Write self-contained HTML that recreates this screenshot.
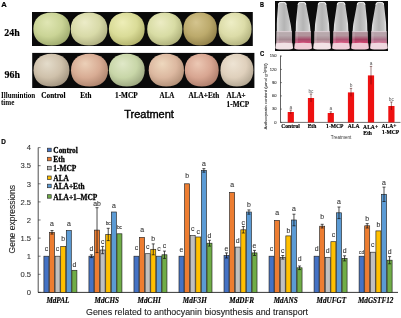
<!DOCTYPE html><html><head><meta charset="utf-8"><style>
html,body{margin:0;padding:0;background:#fff;}
body{width:401px;height:318px;overflow:hidden;}
svg{display:block;will-change:transform;}
text{font-family:"Liberation Sans",sans-serif;}
.sb{font-family:"Liberation Serif",serif;font-weight:bold;stroke:#000;stroke-width:0.16px;}
.sbi{font-family:"Liberation Serif",serif;font-weight:bold;font-style:italic;stroke:#000;stroke-width:0.16px;}
</style></head><body>
<svg width="401" height="318" viewBox="0 0 401 318">
<defs>
<radialGradient id="ap0" cx="0.42" cy="0.38" r="0.7" fx="0.38" fy="0.3"><stop offset="0" stop-color="#e0e6b4"/><stop offset="0.55" stop-color="#cad496"/><stop offset="1" stop-color="#98a468"/></radialGradient>
<radialGradient id="ap1" cx="0.42" cy="0.38" r="0.7" fx="0.38" fy="0.3"><stop offset="0" stop-color="#ececc8"/><stop offset="0.55" stop-color="#d8daa8"/><stop offset="1" stop-color="#a8a87a"/></radialGradient>
<radialGradient id="ap2" cx="0.42" cy="0.38" r="0.7" fx="0.38" fy="0.3"><stop offset="0" stop-color="#eeeeb8"/><stop offset="0.55" stop-color="#dadc98"/><stop offset="1" stop-color="#acac66"/></radialGradient>
<radialGradient id="ap3" cx="0.42" cy="0.38" r="0.7" fx="0.38" fy="0.3"><stop offset="0" stop-color="#ececc4"/><stop offset="0.55" stop-color="#d8dca4"/><stop offset="1" stop-color="#a8aa74"/></radialGradient>
<radialGradient id="ap4" cx="0.42" cy="0.38" r="0.7" fx="0.38" fy="0.3"><stop offset="0" stop-color="#d4c48e"/><stop offset="0.55" stop-color="#bcaa6c"/><stop offset="1" stop-color="#8a7a44"/></radialGradient>
<radialGradient id="ap5" cx="0.42" cy="0.38" r="0.7" fx="0.38" fy="0.3"><stop offset="0" stop-color="#eeeec6"/><stop offset="0.55" stop-color="#dcdca8"/><stop offset="1" stop-color="#acac78"/></radialGradient>
<radialGradient id="ap6" cx="0.42" cy="0.38" r="0.7" fx="0.38" fy="0.3"><stop offset="0" stop-color="#e4dccb"/><stop offset="0.55" stop-color="#cfc1ab"/><stop offset="1" stop-color="#9c8e7a"/></radialGradient>
<radialGradient id="ap7" cx="0.42" cy="0.38" r="0.7" fx="0.38" fy="0.3"><stop offset="0" stop-color="#ecd0b8"/><stop offset="0.55" stop-color="#d8ac94"/><stop offset="1" stop-color="#a87e68"/></radialGradient>
<radialGradient id="ap8" cx="0.42" cy="0.38" r="0.7" fx="0.38" fy="0.3"><stop offset="0" stop-color="#e0e8c8"/><stop offset="0.55" stop-color="#c8d6a8"/><stop offset="1" stop-color="#96a07a"/></radialGradient>
<radialGradient id="ap9" cx="0.42" cy="0.38" r="0.7" fx="0.38" fy="0.3"><stop offset="0" stop-color="#eed8be"/><stop offset="0.55" stop-color="#dcb8a0"/><stop offset="1" stop-color="#ac8a72"/></radialGradient>
<radialGradient id="ap10" cx="0.42" cy="0.38" r="0.7" fx="0.38" fy="0.3"><stop offset="0" stop-color="#ecc8b4"/><stop offset="0.55" stop-color="#d8a692"/><stop offset="1" stop-color="#a87866"/></radialGradient>
<radialGradient id="ap11" cx="0.42" cy="0.38" r="0.7" fx="0.38" fy="0.3"><stop offset="0" stop-color="#eee4d4"/><stop offset="0.55" stop-color="#dfd0bc"/><stop offset="1" stop-color="#aca08c"/></radialGradient>
<linearGradient id="tube" x1="0" x2="1" y1="0" y2="0"><stop offset="0" stop-color="#686868"/><stop offset="0.08" stop-color="#e0e0e0"/><stop offset="0.2" stop-color="#c8c8c8"/><stop offset="0.5" stop-color="#b4b4b4"/><stop offset="0.8" stop-color="#c6c6c6"/><stop offset="0.92" stop-color="#dcdcdc"/><stop offset="1" stop-color="#686868"/></linearGradient>
</defs>
<text x="1.2" y="7.1" font-size="7.6" font-weight="bold" stroke="#000" stroke-width="0.2">A</text>
<rect x="32" y="12" width="220.8" height="34" fill="#0a0a0a"/>
<rect x="32.2" y="52.9" width="222.2" height="35.1" fill="#0a0a0a"/>
<path d="M51.70,12.40 C63.11,12.40 70.10,18.71 70.10,29.00 C70.10,39.29 63.11,45.60 51.70,45.60 C40.29,45.60 33.30,39.29 33.30,29.00 C33.30,18.71 40.29,12.40 51.70,12.40 Z" fill="url(#ap0)"/>
<path d="M89.05,12.40 C100.43,12.40 107.40,18.71 107.40,29.00 C107.40,39.29 100.43,45.60 89.05,45.60 C77.67,45.60 70.70,39.29 70.70,29.00 C70.70,18.71 77.67,12.40 89.05,12.40 Z" fill="url(#ap1)"/>
<path d="M126.80,12.40 C137.90,12.40 144.70,18.71 144.70,29.00 C144.70,39.29 137.90,45.60 126.80,45.60 C115.70,45.60 108.90,39.29 108.90,29.00 C108.90,18.71 115.70,12.40 126.80,12.40 Z" fill="url(#ap2)"/>
<path d="M164.80,12.40 C175.71,12.40 182.40,18.71 182.40,29.00 C182.40,39.29 175.71,45.60 164.80,45.60 C153.89,45.60 147.20,39.29 147.20,29.00 C147.20,18.71 153.89,12.40 164.80,12.40 Z" fill="url(#ap3)"/>
<path d="M200.15,12.40 C210.53,12.40 216.90,18.71 216.90,29.00 C216.90,39.29 210.53,45.60 200.15,45.60 C189.77,45.60 183.40,39.29 183.40,29.00 C183.40,18.71 189.77,12.40 200.15,12.40 Z" fill="url(#ap4)"/>
<path d="M235.05,12.40 C245.31,12.40 251.60,18.71 251.60,29.00 C251.60,39.29 245.31,45.60 235.05,45.60 C224.79,45.60 218.50,39.29 218.50,29.00 C218.50,18.71 224.79,12.40 235.05,12.40 Z" fill="url(#ap5)"/>
<path d="M51.45,53.80 C62.58,53.80 69.40,60.03 69.40,70.20 C69.40,80.37 62.58,86.60 51.45,86.60 C40.32,86.60 33.50,80.37 33.50,70.20 C33.50,60.03 40.32,53.80 51.45,53.80 Z" fill="url(#ap6)"/>
<path d="M89.50,53.80 C100.97,53.80 108.00,60.03 108.00,70.20 C108.00,80.37 100.97,86.60 89.50,86.60 C78.03,86.60 71.00,80.37 71.00,70.20 C71.00,60.03 78.03,53.80 89.50,53.80 Z" fill="url(#ap7)"/>
<path d="M126.80,53.80 C137.90,53.80 144.70,60.03 144.70,70.20 C144.70,80.37 137.90,86.60 126.80,86.60 C115.70,86.60 108.90,80.37 108.90,70.20 C108.90,60.03 115.70,53.80 126.80,53.80 Z" fill="url(#ap8)"/>
<path d="M166.35,53.80 C177.29,53.80 184.00,60.03 184.00,70.20 C184.00,80.37 177.29,86.60 166.35,86.60 C155.41,86.60 148.70,80.37 148.70,70.20 C148.70,60.03 155.41,53.80 166.35,53.80 Z" fill="url(#ap9)"/>
<path d="M201.75,53.80 C212.26,53.80 218.70,60.03 218.70,70.20 C218.70,80.37 212.26,86.60 201.75,86.60 C191.24,86.60 184.80,80.37 184.80,70.20 C184.80,60.03 191.24,53.80 201.75,53.80 Z" fill="url(#ap10)"/>
<path d="M236.90,53.80 C247.13,53.80 253.40,60.03 253.40,70.20 C253.40,80.37 247.13,86.60 236.90,86.60 C226.67,86.60 220.40,80.37 220.40,70.20 C220.40,60.03 226.67,53.80 236.90,53.80 Z" fill="url(#ap11)"/>
<text class="sb" x="4.3" y="35.5" font-size="9.3" textLength="15.4" lengthAdjust="spacingAndGlyphs">24h</text>
<text class="sb" x="4.6" y="77.8" font-size="9.3" textLength="15.4" lengthAdjust="spacingAndGlyphs">96h</text>
<text x="1" y="97.7" font-size="7.8" textLength="34.3" lengthAdjust="spacingAndGlyphs" style="font-family:Liberation Serif,serif;font-weight:bold">Illumintion</text>
<text x="1" y="104.9" font-size="7.8" textLength="13.4" lengthAdjust="spacingAndGlyphs" style="font-family:Liberation Serif,serif;font-weight:bold">time</text>
<text class="sb" x="41.3" y="97.7" font-size="7.4" textLength="24.1" lengthAdjust="spacingAndGlyphs" stroke="#000" stroke-width="0.18">Control</text>
<text class="sb" x="80.3" y="97.7" font-size="7.4" textLength="11.1" lengthAdjust="spacingAndGlyphs" stroke="#000" stroke-width="0.18">Eth</text>
<text class="sb" x="115.0" y="97.7" font-size="7.4" textLength="22.6" lengthAdjust="spacingAndGlyphs" stroke="#000" stroke-width="0.18">1-MCP</text>
<text class="sb" x="159.6" y="97.7" font-size="7.4" textLength="14.8" lengthAdjust="spacingAndGlyphs" stroke="#000" stroke-width="0.18">ALA</text>
<text class="sb" x="188.5" y="97.7" font-size="7.4" textLength="30.7" lengthAdjust="spacingAndGlyphs" stroke="#000" stroke-width="0.18">ALA+Eth</text>
<text class="sb" x="226.6" y="97.7" font-size="7.4" textLength="19.0" lengthAdjust="spacingAndGlyphs" stroke="#000" stroke-width="0.18">ALA+</text>
<text class="sb" x="226.6" y="106.6" font-size="7.4" textLength="22.6" lengthAdjust="spacingAndGlyphs" stroke="#000" stroke-width="0.18">1-MCP</text>
<text x="124.2" y="117.6" font-size="11" stroke="#000" stroke-width="0.4">Treatment</text>
<text x="259.9" y="6.8" font-size="6.6" font-weight="bold" textLength="4.0" lengthAdjust="spacingAndGlyphs" stroke="#000" stroke-width="0.2">B</text>
<rect x="275" y="1" width="113" height="50" fill="#0c0c0c"/>
<path d="M278.1,4.6 Q278.1,2.0 280.7,2.0 L283.9,2.0 Q286.5,2.0 286.5,4.6 L290.6,24 L291.8,31 L292.1,44.0 L276.3,44.0 L276.6,31 L276.6,24 Z" fill="url(#tube)"/>
<path d="M278.5,4.8 Q278.5,2.4 280.9,2.4 L283.7,2.4 Q286.1,2.4 286.1,4.8" fill="none" stroke="#f0f0f0" stroke-width="1"/>
<linearGradient id="lq0" x1="0" x2="0" y1="0" y2="1"><stop offset="0" stop-color="#b8aaae"/><stop offset="0.3" stop-color="#b8aaae"/><stop offset="0.65" stop-color="#a68c94"/><stop offset="1" stop-color="#d0a4b2"/></linearGradient>
<path d="M276.6,32 L291.8,32 L292.1,43.5 L276.3,43.5 Z" fill="url(#lq0)"/>
<path d="M277.3,32.5 L278.8,32.5 L278.8,43 L277.1,43 Z" fill="#ffffff" opacity="0.15"/>
<line x1="276.6" y1="31.6" x2="291.8" y2="31.6" stroke="#dccfd4" stroke-width="1"/>
<path d="M275.9,43.2 Q284.2,42.4 292.5,43.2 L293.1,48.3 Q292.5,49.8 284.2,49.6 Q275.9,49.8 275.3,48.3 Z" fill="#f2e2e6"/>
<path d="M297.8,4.6 Q297.8,2.0 300.3,2.0 L303.6,2.0 Q306.1,2.0 306.1,4.6 L309.8,24 L310.8,31 L311.0,44.0 L295.2,44.0 L295.5,31 L295.8,24 Z" fill="url(#tube)"/>
<path d="M298.1,4.8 Q298.1,2.4 300.6,2.4 L303.3,2.4 Q305.8,2.4 305.8,4.8" fill="none" stroke="#f0f0f0" stroke-width="1"/>
<linearGradient id="lq1" x1="0" x2="0" y1="0" y2="1"><stop offset="0" stop-color="#b2949c"/><stop offset="0.3" stop-color="#b2949c"/><stop offset="0.65" stop-color="#a44c6a"/><stop offset="1" stop-color="#d84c7a"/></linearGradient>
<path d="M295.5,32 L310.8,32 L311.0,43.5 L295.2,43.5 Z" fill="url(#lq1)"/>
<path d="M296.2,32.5 L297.8,32.5 L297.8,43 L296.0,43 Z" fill="#ffffff" opacity="0.15"/>
<line x1="295.5" y1="31.6" x2="310.8" y2="31.6" stroke="#dccfd4" stroke-width="1"/>
<path d="M294.8,43.2 Q303.1,42.4 311.4,43.2 L312.0,48.3 Q311.4,49.8 303.1,49.6 Q294.8,49.8 294.2,48.3 Z" fill="#f0ccd6"/>
<path d="M317.9,4.6 Q317.9,2.0 320.5,2.0 L323.7,2.0 Q326.3,2.0 326.3,4.6 L329.1,24 L329.7,31 L330.0,44.0 L314.2,44.0 L314.5,31 L315.1,24 Z" fill="url(#tube)"/>
<path d="M318.3,4.8 Q318.3,2.4 320.7,2.4 L323.5,2.4 Q325.9,2.4 325.9,4.8" fill="none" stroke="#f0f0f0" stroke-width="1"/>
<linearGradient id="lq2" x1="0" x2="0" y1="0" y2="1"><stop offset="0" stop-color="#b8a8ac"/><stop offset="0.3" stop-color="#b8a8ac"/><stop offset="0.65" stop-color="#a88a92"/><stop offset="1" stop-color="#d4a0b0"/></linearGradient>
<path d="M314.4,32 L329.7,32 L330.0,43.5 L314.2,43.5 Z" fill="url(#lq2)"/>
<path d="M315.2,32.5 L316.7,32.5 L316.7,43 L315.0,43 Z" fill="#ffffff" opacity="0.15"/>
<line x1="314.5" y1="31.6" x2="329.7" y2="31.6" stroke="#dccfd4" stroke-width="1"/>
<path d="M313.8,43.2 Q322.1,42.4 330.4,43.2 L331.0,48.3 Q330.4,49.8 322.1,49.6 Q313.8,49.8 313.2,48.3 Z" fill="#f2e2e6"/>
<path d="M336.9,4.6 Q336.9,2.0 339.5,2.0 L342.8,2.0 Q345.3,2.0 345.3,4.6 L348.1,24 L348.6,31 L348.9,44.0 L333.1,44.0 L333.4,31 L334.1,24 Z" fill="url(#tube)"/>
<path d="M337.3,4.8 Q337.3,2.4 339.8,2.4 L342.5,2.4 Q344.9,2.4 344.9,4.8" fill="none" stroke="#f0f0f0" stroke-width="1"/>
<linearGradient id="lq3" x1="0" x2="0" y1="0" y2="1"><stop offset="0" stop-color="#b4969e"/><stop offset="0.3" stop-color="#b4969e"/><stop offset="0.65" stop-color="#ac5674"/><stop offset="1" stop-color="#e05c86"/></linearGradient>
<path d="M333.4,32 L348.7,32 L348.9,43.5 L333.1,43.5 Z" fill="url(#lq3)"/>
<path d="M334.1,32.5 L335.6,32.5 L335.6,43 L333.9,43 Z" fill="#ffffff" opacity="0.15"/>
<line x1="333.4" y1="31.6" x2="348.6" y2="31.6" stroke="#dccfd4" stroke-width="1"/>
<path d="M332.7,43.2 Q341.0,42.4 349.3,43.2 L349.9,48.3 Q349.3,49.8 341.0,49.6 Q332.7,49.8 332.1,48.3 Z" fill="#f0d0da"/>
<path d="M356.9,4.6 Q356.9,2.0 359.5,2.0 L362.7,2.0 Q365.3,2.0 365.3,4.6 L367.3,24 L367.6,31 L367.9,44.0 L352.1,44.0 L352.4,31 L353.3,24 Z" fill="url(#tube)"/>
<path d="M357.3,4.8 Q357.3,2.4 359.7,2.4 L362.5,2.4 Q364.9,2.4 364.9,4.8" fill="none" stroke="#f0f0f0" stroke-width="1"/>
<linearGradient id="lq4" x1="0" x2="0" y1="0" y2="1"><stop offset="0" stop-color="#b08e98"/><stop offset="0.3" stop-color="#b08e98"/><stop offset="0.65" stop-color="#a44262"/><stop offset="1" stop-color="#d84472"/></linearGradient>
<path d="M352.4,32 L367.6,32 L367.9,43.5 L352.1,43.5 Z" fill="url(#lq4)"/>
<path d="M353.1,32.5 L354.6,32.5 L354.6,43 L352.9,43 Z" fill="#ffffff" opacity="0.15"/>
<line x1="352.4" y1="31.6" x2="367.6" y2="31.6" stroke="#dccfd4" stroke-width="1"/>
<path d="M351.7,43.2 Q360.0,42.4 368.3,43.2 L368.9,48.3 Q368.3,49.8 360.0,49.6 Q351.7,49.8 351.1,48.3 Z" fill="#f0c8d4"/>
<path d="M375.6,4.6 Q375.6,2.0 378.2,2.0 L381.4,2.0 Q384.0,2.0 384.0,4.6 L386.2,24 L386.6,31 L386.8,44.0 L371.1,44.0 L371.3,31 L372.2,24 Z" fill="url(#tube)"/>
<path d="M376.0,4.8 Q376.0,2.4 378.4,2.4 L381.2,2.4 Q383.6,2.4 383.6,4.8" fill="none" stroke="#f0f0f0" stroke-width="1"/>
<linearGradient id="lq5" x1="0" x2="0" y1="0" y2="1"><stop offset="0" stop-color="#b8a2aa"/><stop offset="0.3" stop-color="#b8a2aa"/><stop offset="0.65" stop-color="#ac728a"/><stop offset="1" stop-color="#d8789a"/></linearGradient>
<path d="M371.3,32 L386.6,32 L386.8,43.5 L371.1,43.5 Z" fill="url(#lq5)"/>
<path d="M372.1,32.5 L373.6,32.5 L373.6,43 L371.8,43 Z" fill="#ffffff" opacity="0.15"/>
<line x1="371.3" y1="31.6" x2="386.6" y2="31.6" stroke="#dccfd4" stroke-width="1"/>
<path d="M370.6,43.2 Q378.9,42.4 387.2,43.2 L387.8,48.3 Q387.2,49.8 378.9,49.6 Q370.6,49.8 370.1,48.3 Z" fill="#f0d8e0"/>
<text x="259.9" y="55.7" font-size="6.6" font-weight="bold" textLength="4.2" lengthAdjust="spacingAndGlyphs" stroke="#000" stroke-width="0.2">C</text>
<line x1="280.5" y1="55.5" x2="280.5" y2="122.4" stroke="#222" stroke-width="0.7"/>
<line x1="280.2" y1="122.4" x2="400.5" y2="122.4" stroke="#333" stroke-width="0.7"/>
<line x1="280.5" y1="122.4" x2="282" y2="122.4" stroke="#222" stroke-width="0.5"/>
<text x="276.6" y="123.6" font-size="4.1" text-anchor="end" fill="#333" stroke="#333" stroke-width="0.08">0</text>
<line x1="280.5" y1="109.1" x2="282" y2="109.1" stroke="#222" stroke-width="0.5"/>
<text x="276.6" y="110.3" font-size="4.1" text-anchor="end" fill="#333" stroke="#333" stroke-width="0.08">30</text>
<line x1="280.5" y1="95.9" x2="282" y2="95.9" stroke="#222" stroke-width="0.5"/>
<text x="276.6" y="97.1" font-size="4.1" text-anchor="end" fill="#333" stroke="#333" stroke-width="0.08">60</text>
<line x1="280.5" y1="82.6" x2="282" y2="82.6" stroke="#222" stroke-width="0.5"/>
<text x="276.6" y="83.8" font-size="4.1" text-anchor="end" fill="#333" stroke="#333" stroke-width="0.08">90</text>
<line x1="280.5" y1="69.4" x2="282" y2="69.4" stroke="#222" stroke-width="0.5"/>
<text x="276.6" y="70.6" font-size="4.1" text-anchor="end" fill="#333" stroke="#333" stroke-width="0.08">120</text>
<line x1="280.5" y1="56.1" x2="282" y2="56.1" stroke="#222" stroke-width="0.5"/>
<text x="276.6" y="57.3" font-size="4.1" text-anchor="end" fill="#333" stroke="#333" stroke-width="0.08">150</text>
<text transform="translate(266.9,96.4) rotate(-90)" font-size="4.35" text-anchor="middle" fill="#333" stroke="#333" stroke-width="0.08">Anthocyanin content (μmol g<tspan dy="-1.3" font-size="3">-1</tspan><tspan dy="1.3">FW)</tspan></text>
<rect x="287.7" y="112.0" width="6.2" height="10.4" fill="#ee1111"/>
<line x1="290.8" y1="110.0" x2="290.8" y2="114.0" stroke="#400" stroke-width="0.5"/>
<line x1="289.6" y1="110.0" x2="292.0" y2="110.0" stroke="#400" stroke-width="0.5"/>
<text x="290.8" y="108.5" font-size="4.8" text-anchor="middle" fill="#555">a</text>
<rect x="307.9" y="98.0" width="6.2" height="24.4" fill="#ee1111"/>
<line x1="311.0" y1="94.0" x2="311.0" y2="102.0" stroke="#400" stroke-width="0.5"/>
<line x1="309.8" y1="94.0" x2="312.2" y2="94.0" stroke="#400" stroke-width="0.5"/>
<text x="311.0" y="92.5" font-size="4.8" text-anchor="middle" fill="#555">bc</text>
<rect x="327.7" y="113.0" width="6.2" height="9.4" fill="#ee1111"/>
<line x1="330.8" y1="111.8" x2="330.8" y2="114.2" stroke="#400" stroke-width="0.5"/>
<line x1="329.6" y1="111.8" x2="332.0" y2="111.8" stroke="#400" stroke-width="0.5"/>
<text x="330.8" y="110.3" font-size="4.8" text-anchor="middle" fill="#555">a</text>
<rect x="347.9" y="92.4" width="6.2" height="30.0" fill="#ee1111"/>
<line x1="351.0" y1="88.4" x2="351.0" y2="96.4" stroke="#400" stroke-width="0.5"/>
<line x1="349.8" y1="88.4" x2="352.2" y2="88.4" stroke="#400" stroke-width="0.5"/>
<text x="351.0" y="86.9" font-size="4.8" text-anchor="middle" fill="#555">b</text>
<rect x="367.9" y="75.4" width="6.2" height="47.0" fill="#ee1111"/>
<line x1="371.0" y1="66.4" x2="371.0" y2="84.4" stroke="#400" stroke-width="0.5"/>
<line x1="369.8" y1="66.4" x2="372.2" y2="66.4" stroke="#400" stroke-width="0.5"/>
<text x="371.0" y="64.9" font-size="4.8" text-anchor="middle" fill="#555">a</text>
<rect x="388.3" y="106.0" width="6.2" height="16.4" fill="#ee1111"/>
<line x1="391.4" y1="102.0" x2="391.4" y2="110.0" stroke="#400" stroke-width="0.5"/>
<line x1="390.2" y1="102.0" x2="392.59999999999997" y2="102.0" stroke="#400" stroke-width="0.5"/>
<text x="391.4" y="100.5" font-size="4.8" text-anchor="middle" fill="#555">bc</text>
<text class="sb" x="290.5" y="127.5" font-size="5.6" text-anchor="middle">Control</text>
<text class="sb" x="312" y="127.6" font-size="5.6" text-anchor="middle">Eth</text>
<text class="sb" x="334.8" y="127.7" font-size="5.6" text-anchor="middle">1-MCP</text>
<text class="sb" x="353.7" y="127.8" font-size="5.6" text-anchor="middle">ALA</text>
<text class="sb" x="370.6" y="128.9" font-size="5.6" text-anchor="middle">ALA+</text>
<text class="sb" x="389.0" y="127.9" font-size="5.6" text-anchor="middle">ALA+</text>
<text class="sb" x="367.6" y="135.1" font-size="5.6" text-anchor="middle">Eth</text>
<text class="sb" x="390.6" y="134.4" font-size="5.6" text-anchor="middle">1-MCP</text>
<text x="341" y="139.3" font-size="4.5" text-anchor="middle" fill="#333">Treatment</text>
<text x="1.3" y="144.2" font-size="7.1" font-weight="bold" textLength="4.6" lengthAdjust="spacingAndGlyphs" stroke="#000" stroke-width="0.2">D</text>
<line x1="38.2" y1="147.6" x2="38.2" y2="292.4" stroke="#222" stroke-width="0.8"/>
<line x1="38" y1="292.4" x2="398" y2="292.4" stroke="#222" stroke-width="0.9"/>
<line x1="38.2" y1="292.4" x2="40.6" y2="292.4" stroke="#222" stroke-width="0.6"/>
<text x="31" y="295.1" font-size="7.6" text-anchor="end" fill="#333" stroke="#333" stroke-width="0.1">0</text>
<line x1="38.2" y1="274.3" x2="40.6" y2="274.3" stroke="#222" stroke-width="0.6"/>
<text x="31" y="277.0" font-size="7.6" text-anchor="end" fill="#333" stroke="#333" stroke-width="0.1">0.5</text>
<line x1="38.2" y1="256.2" x2="40.6" y2="256.2" stroke="#222" stroke-width="0.6"/>
<text x="31" y="258.9" font-size="7.6" text-anchor="end" fill="#333" stroke="#333" stroke-width="0.1">1</text>
<line x1="38.2" y1="238.1" x2="40.6" y2="238.1" stroke="#222" stroke-width="0.6"/>
<text x="31" y="240.8" font-size="7.6" text-anchor="end" fill="#333" stroke="#333" stroke-width="0.1">1.5</text>
<line x1="38.2" y1="220.0" x2="40.6" y2="220.0" stroke="#222" stroke-width="0.6"/>
<text x="31" y="222.7" font-size="7.6" text-anchor="end" fill="#333" stroke="#333" stroke-width="0.1">2</text>
<line x1="38.2" y1="201.9" x2="40.6" y2="201.9" stroke="#222" stroke-width="0.6"/>
<text x="31" y="204.6" font-size="7.6" text-anchor="end" fill="#333" stroke="#333" stroke-width="0.1">2.5</text>
<line x1="38.2" y1="183.8" x2="40.6" y2="183.8" stroke="#222" stroke-width="0.6"/>
<text x="31" y="186.5" font-size="7.6" text-anchor="end" fill="#333" stroke="#333" stroke-width="0.1">3</text>
<line x1="38.2" y1="165.7" x2="40.6" y2="165.7" stroke="#222" stroke-width="0.6"/>
<text x="31" y="168.4" font-size="7.6" text-anchor="end" fill="#333" stroke="#333" stroke-width="0.1">3.5</text>
<line x1="38.2" y1="147.6" x2="40.6" y2="147.6" stroke="#222" stroke-width="0.6"/>
<text x="31" y="150.3" font-size="7.6" text-anchor="end" fill="#333" stroke="#333" stroke-width="0.1">4</text>
<text transform="translate(14.9,219.2) rotate(-90)" font-size="8.5" text-anchor="middle" fill="#222" stroke="#222" stroke-width="0.1">Gene expressions</text>
<rect x="43.90" y="256.2" width="5.00" height="36.2" fill="#4472c4" stroke="#222" stroke-width="0.65"/>
<text x="46.40" y="251.2" font-size="6.9" text-anchor="middle" fill="#333" stroke="#333" stroke-width="0.1">c</text>
<rect x="49.50" y="232.3" width="5.00" height="60.1" fill="#ed7d31" stroke="#222" stroke-width="0.65"/>
<line x1="52.00" y1="230.5" x2="52.00" y2="234.1" stroke="#111" stroke-width="0.75"/>
<line x1="50.50" y1="230.5" x2="53.50" y2="230.5" stroke="#111" stroke-width="0.7"/>
<line x1="50.50" y1="234.1" x2="53.50" y2="234.1" stroke="#111" stroke-width="0.7"/>
<text x="52.00" y="226.1" font-size="6.9" text-anchor="middle" fill="#333" stroke="#333" stroke-width="0.1">a</text>
<rect x="55.10" y="256.2" width="5.00" height="36.2" fill="#c0c0c0" stroke="#222" stroke-width="0.65"/>
<text x="57.60" y="251.2" font-size="6.9" text-anchor="middle" fill="#333" stroke="#333" stroke-width="0.1">c</text>
<rect x="60.70" y="246.4" width="5.00" height="46.0" fill="#ffc000" stroke="#222" stroke-width="0.65"/>
<text x="63.20" y="241.2" font-size="6.9" text-anchor="middle" fill="#333" stroke="#333" stroke-width="0.1">b</text>
<rect x="66.30" y="230.5" width="5.00" height="61.9" fill="#5b9bd5" stroke="#222" stroke-width="0.65"/>
<text x="68.80" y="225.5" font-size="6.9" text-anchor="middle" fill="#333" stroke="#333" stroke-width="0.1">a</text>
<rect x="71.90" y="270.3" width="5.00" height="22.1" fill="#70ad47" stroke="#222" stroke-width="0.65"/>
<text x="74.40" y="267.2" font-size="6.9" text-anchor="middle" fill="#333" stroke="#333" stroke-width="0.1">d</text>
<text class="sbi" x="57.9" y="302.6" font-size="7.2" text-anchor="middle">MdPAL</text>
<rect x="88.93" y="256.2" width="5.00" height="36.2" fill="#4472c4" stroke="#222" stroke-width="0.65"/>
<line x1="91.43" y1="254.8" x2="91.43" y2="257.6" stroke="#111" stroke-width="0.75"/>
<line x1="89.93" y1="254.8" x2="92.93" y2="254.8" stroke="#111" stroke-width="0.7"/>
<line x1="89.93" y1="257.6" x2="92.93" y2="257.6" stroke="#111" stroke-width="0.7"/>
<text x="91.43" y="250.6" font-size="6.9" text-anchor="middle" fill="#333" stroke="#333" stroke-width="0.1">d</text>
<rect x="94.53" y="230.1" width="5.00" height="62.3" fill="#ed7d31" stroke="#222" stroke-width="0.65"/>
<line x1="97.03" y1="207.7" x2="97.03" y2="252.6" stroke="#111" stroke-width="0.75"/>
<line x1="95.53" y1="207.7" x2="98.53" y2="207.7" stroke="#111" stroke-width="0.7"/>
<line x1="95.53" y1="252.6" x2="98.53" y2="252.6" stroke="#111" stroke-width="0.7"/>
<text x="97.03" y="206.4" font-size="6.9" text-anchor="middle" fill="#333" stroke="#333" stroke-width="0.1">ab</text>
<rect x="100.13" y="250.0" width="5.00" height="42.4" fill="#c0c0c0" stroke="#222" stroke-width="0.65"/>
<line x1="102.63" y1="246.4" x2="102.63" y2="253.7" stroke="#111" stroke-width="0.75"/>
<line x1="101.13" y1="246.4" x2="104.13" y2="246.4" stroke="#111" stroke-width="0.7"/>
<line x1="101.13" y1="253.7" x2="104.13" y2="253.7" stroke="#111" stroke-width="0.7"/>
<text x="102.63" y="244.2" font-size="6.9" text-anchor="middle" fill="#333" stroke="#333" stroke-width="0.1">c</text>
<rect x="105.73" y="234.5" width="5.00" height="57.9" fill="#ffc000" stroke="#222" stroke-width="0.65"/>
<line x1="108.23" y1="228.3" x2="108.23" y2="240.6" stroke="#111" stroke-width="0.75"/>
<line x1="106.73" y1="228.3" x2="109.73" y2="228.3" stroke="#111" stroke-width="0.7"/>
<line x1="106.73" y1="240.6" x2="109.73" y2="240.6" stroke="#111" stroke-width="0.7"/>
<text x="108.23" y="225.2" font-size="4.8" text-anchor="middle" fill="#333" stroke="#333" stroke-width="0.1">bc</text>
<rect x="111.33" y="212.0" width="5.00" height="80.4" fill="#5b9bd5" stroke="#222" stroke-width="0.65"/>
<text x="113.83" y="208.3" font-size="6.9" text-anchor="middle" fill="#333" stroke="#333" stroke-width="0.1">a</text>
<rect x="116.93" y="233.8" width="5.00" height="58.6" fill="#70ad47" stroke="#222" stroke-width="0.65"/>
<text x="119.43" y="228.8" font-size="4.8" text-anchor="middle" fill="#333" stroke="#333" stroke-width="0.1">bc</text>
<text class="sbi" x="106.8" y="302.6" font-size="7.2" text-anchor="middle">MdCHS</text>
<rect x="133.96" y="256.2" width="5.00" height="36.2" fill="#4472c4" stroke="#222" stroke-width="0.65"/>
<text x="136.46" y="250.4" font-size="6.9" text-anchor="middle" fill="#333" stroke="#333" stroke-width="0.1">c</text>
<rect x="139.56" y="237.4" width="5.00" height="55.0" fill="#ed7d31" stroke="#222" stroke-width="0.65"/>
<text x="142.06" y="231.5" font-size="6.9" text-anchor="middle" fill="#333" stroke="#333" stroke-width="0.1">a</text>
<rect x="145.16" y="253.7" width="5.00" height="38.7" fill="#c0c0c0" stroke="#222" stroke-width="0.65"/>
<text x="147.66" y="248.5" font-size="6.9" text-anchor="middle" fill="#333" stroke="#333" stroke-width="0.1">c</text>
<rect x="150.76" y="249.3" width="5.00" height="43.1" fill="#ffc000" stroke="#222" stroke-width="0.65"/>
<line x1="153.26" y1="243.9" x2="153.26" y2="254.8" stroke="#111" stroke-width="0.75"/>
<line x1="151.76" y1="243.9" x2="154.76" y2="243.9" stroke="#111" stroke-width="0.7"/>
<line x1="151.76" y1="254.8" x2="154.76" y2="254.8" stroke="#111" stroke-width="0.7"/>
<text x="153.26" y="241.3" font-size="6.9" text-anchor="middle" fill="#333" stroke="#333" stroke-width="0.1">b</text>
<rect x="156.36" y="256.2" width="5.00" height="36.2" fill="#5b9bd5" stroke="#222" stroke-width="0.65"/>
<text x="158.86" y="250.8" font-size="6.9" text-anchor="middle" fill="#333" stroke="#333" stroke-width="0.1">c</text>
<rect x="161.96" y="254.8" width="5.00" height="37.6" fill="#70ad47" stroke="#222" stroke-width="0.65"/>
<line x1="164.46" y1="251.1" x2="164.46" y2="258.4" stroke="#111" stroke-width="0.75"/>
<line x1="162.96" y1="251.1" x2="165.96" y2="251.1" stroke="#111" stroke-width="0.7"/>
<line x1="162.96" y1="258.4" x2="165.96" y2="258.4" stroke="#111" stroke-width="0.7"/>
<text x="164.46" y="247.8" font-size="6.9" text-anchor="middle" fill="#333" stroke="#333" stroke-width="0.1">c</text>
<text class="sbi" x="149.2" y="302.6" font-size="7.2" text-anchor="middle">MdCHI</text>
<rect x="178.99" y="256.2" width="5.00" height="36.2" fill="#4472c4" stroke="#222" stroke-width="0.65"/>
<text x="181.49" y="251.6" font-size="6.9" text-anchor="middle" fill="#333" stroke="#333" stroke-width="0.1">e</text>
<rect x="184.59" y="183.8" width="5.00" height="108.6" fill="#ed7d31" stroke="#222" stroke-width="0.65"/>
<text x="187.09" y="178.0" font-size="6.9" text-anchor="middle" fill="#333" stroke="#333" stroke-width="0.1">b</text>
<rect x="190.19" y="235.6" width="5.00" height="56.8" fill="#c0c0c0" stroke="#222" stroke-width="0.65"/>
<text x="192.69" y="230.6" font-size="6.9" text-anchor="middle" fill="#333" stroke="#333" stroke-width="0.1">c</text>
<rect x="195.79" y="237.0" width="5.00" height="55.4" fill="#ffc000" stroke="#222" stroke-width="0.65"/>
<text x="198.29" y="234.0" font-size="6.9" text-anchor="middle" fill="#333" stroke="#333" stroke-width="0.1">c</text>
<rect x="201.39" y="170.4" width="5.00" height="122.0" fill="#5b9bd5" stroke="#222" stroke-width="0.65"/>
<line x1="203.89" y1="168.6" x2="203.89" y2="172.2" stroke="#111" stroke-width="0.75"/>
<line x1="202.39" y1="168.6" x2="205.39" y2="168.6" stroke="#111" stroke-width="0.7"/>
<line x1="202.39" y1="172.2" x2="205.39" y2="172.2" stroke="#111" stroke-width="0.7"/>
<text x="203.89" y="166.1" font-size="6.9" text-anchor="middle" fill="#333" stroke="#333" stroke-width="0.1">a</text>
<rect x="206.99" y="243.2" width="5.00" height="49.2" fill="#70ad47" stroke="#222" stroke-width="0.65"/>
<line x1="209.49" y1="240.3" x2="209.49" y2="246.1" stroke="#111" stroke-width="0.75"/>
<line x1="207.99" y1="240.3" x2="210.99" y2="240.3" stroke="#111" stroke-width="0.7"/>
<line x1="207.99" y1="246.1" x2="210.99" y2="246.1" stroke="#111" stroke-width="0.7"/>
<text x="209.49" y="238.4" font-size="6.9" text-anchor="middle" fill="#333" stroke="#333" stroke-width="0.1">d</text>
<text class="sbi" x="194.8" y="302.6" font-size="7.2" text-anchor="middle">MdF3H</text>
<rect x="224.02" y="255.5" width="5.00" height="36.9" fill="#4472c4" stroke="#222" stroke-width="0.65"/>
<line x1="226.52" y1="252.9" x2="226.52" y2="258.0" stroke="#111" stroke-width="0.75"/>
<line x1="225.02" y1="252.9" x2="228.02" y2="252.9" stroke="#111" stroke-width="0.7"/>
<line x1="225.02" y1="258.0" x2="228.02" y2="258.0" stroke="#111" stroke-width="0.7"/>
<text x="226.52" y="250.6" font-size="6.9" text-anchor="middle" fill="#333" stroke="#333" stroke-width="0.1">e</text>
<rect x="229.62" y="192.5" width="5.00" height="99.9" fill="#ed7d31" stroke="#222" stroke-width="0.65"/>
<text x="232.12" y="187.3" font-size="6.9" text-anchor="middle" fill="#333" stroke="#333" stroke-width="0.1">a</text>
<rect x="235.22" y="247.1" width="5.00" height="45.2" fill="#c0c0c0" stroke="#222" stroke-width="0.65"/>
<text x="237.72" y="242.6" font-size="6.9" text-anchor="middle" fill="#333" stroke="#333" stroke-width="0.1">d</text>
<rect x="240.82" y="229.8" width="5.00" height="62.6" fill="#ffc000" stroke="#222" stroke-width="0.65"/>
<line x1="243.32" y1="226.5" x2="243.32" y2="233.0" stroke="#111" stroke-width="0.75"/>
<line x1="241.82" y1="226.5" x2="244.82" y2="226.5" stroke="#111" stroke-width="0.7"/>
<line x1="241.82" y1="233.0" x2="244.82" y2="233.0" stroke="#111" stroke-width="0.7"/>
<text x="243.32" y="224.5" font-size="6.9" text-anchor="middle" fill="#333" stroke="#333" stroke-width="0.1">c</text>
<rect x="246.42" y="212.0" width="5.00" height="80.4" fill="#5b9bd5" stroke="#222" stroke-width="0.65"/>
<line x1="248.92" y1="209.9" x2="248.92" y2="214.2" stroke="#111" stroke-width="0.75"/>
<line x1="247.42" y1="209.9" x2="250.42" y2="209.9" stroke="#111" stroke-width="0.7"/>
<line x1="247.42" y1="214.2" x2="250.42" y2="214.2" stroke="#111" stroke-width="0.7"/>
<text x="248.92" y="206.8" font-size="6.9" text-anchor="middle" fill="#333" stroke="#333" stroke-width="0.1">b</text>
<rect x="252.02" y="252.9" width="5.00" height="39.5" fill="#70ad47" stroke="#222" stroke-width="0.65"/>
<line x1="254.52" y1="250.4" x2="254.52" y2="255.5" stroke="#111" stroke-width="0.75"/>
<line x1="253.02" y1="250.4" x2="256.02" y2="250.4" stroke="#111" stroke-width="0.7"/>
<line x1="253.02" y1="255.5" x2="256.02" y2="255.5" stroke="#111" stroke-width="0.7"/>
<text x="254.52" y="247.8" font-size="6.9" text-anchor="middle" fill="#333" stroke="#333" stroke-width="0.1">e</text>
<text class="sbi" x="241.7" y="302.6" font-size="7.2" text-anchor="middle">MdDFR</text>
<rect x="269.05" y="256.2" width="5.00" height="36.2" fill="#4472c4" stroke="#222" stroke-width="0.65"/>
<text x="271.55" y="251.4" font-size="6.9" text-anchor="middle" fill="#333" stroke="#333" stroke-width="0.1">c</text>
<rect x="274.65" y="220.4" width="5.00" height="72.0" fill="#ed7d31" stroke="#222" stroke-width="0.65"/>
<text x="277.15" y="214.8" font-size="6.9" text-anchor="middle" fill="#333" stroke="#333" stroke-width="0.1">a</text>
<rect x="280.25" y="257.3" width="5.00" height="35.1" fill="#c0c0c0" stroke="#222" stroke-width="0.65"/>
<line x1="282.75" y1="255.5" x2="282.75" y2="259.1" stroke="#111" stroke-width="0.75"/>
<line x1="281.25" y1="255.5" x2="284.25" y2="255.5" stroke="#111" stroke-width="0.7"/>
<line x1="281.25" y1="259.1" x2="284.25" y2="259.1" stroke="#111" stroke-width="0.7"/>
<text x="282.75" y="252.6" font-size="6.9" text-anchor="middle" fill="#333" stroke="#333" stroke-width="0.1">c</text>
<rect x="285.85" y="235.9" width="5.00" height="56.5" fill="#ffc000" stroke="#222" stroke-width="0.65"/>
<text x="288.35" y="233.0" font-size="6.9" text-anchor="middle" fill="#333" stroke="#333" stroke-width="0.1">b</text>
<rect x="291.45" y="220.0" width="5.00" height="72.4" fill="#5b9bd5" stroke="#222" stroke-width="0.65"/>
<line x1="293.95" y1="214.2" x2="293.95" y2="225.8" stroke="#111" stroke-width="0.75"/>
<line x1="292.45" y1="214.2" x2="295.45" y2="214.2" stroke="#111" stroke-width="0.7"/>
<line x1="292.45" y1="225.8" x2="295.45" y2="225.8" stroke="#111" stroke-width="0.7"/>
<text x="293.95" y="210.8" font-size="6.9" text-anchor="middle" fill="#333" stroke="#333" stroke-width="0.1">a</text>
<rect x="297.05" y="267.8" width="5.00" height="24.6" fill="#70ad47" stroke="#222" stroke-width="0.65"/>
<line x1="299.55" y1="266.0" x2="299.55" y2="269.6" stroke="#111" stroke-width="0.75"/>
<line x1="298.05" y1="266.0" x2="301.05" y2="266.0" stroke="#111" stroke-width="0.7"/>
<line x1="298.05" y1="269.6" x2="301.05" y2="269.6" stroke="#111" stroke-width="0.7"/>
<text x="299.55" y="260.6" font-size="6.9" text-anchor="middle" fill="#333" stroke="#333" stroke-width="0.1">d</text>
<text class="sbi" x="285.7" y="302.6" font-size="7.2" text-anchor="middle">MdANS</text>
<rect x="314.08" y="256.2" width="5.00" height="36.2" fill="#4472c4" stroke="#222" stroke-width="0.65"/>
<text x="316.58" y="251.4" font-size="6.9" text-anchor="middle" fill="#333" stroke="#333" stroke-width="0.1">d</text>
<rect x="319.68" y="226.2" width="5.00" height="66.2" fill="#ed7d31" stroke="#222" stroke-width="0.65"/>
<line x1="322.18" y1="224.3" x2="322.18" y2="228.0" stroke="#111" stroke-width="0.75"/>
<line x1="320.68" y1="224.3" x2="323.68" y2="224.3" stroke="#111" stroke-width="0.7"/>
<line x1="320.68" y1="228.0" x2="323.68" y2="228.0" stroke="#111" stroke-width="0.7"/>
<text x="322.18" y="219.4" font-size="6.9" text-anchor="middle" fill="#333" stroke="#333" stroke-width="0.1">b</text>
<rect x="325.28" y="257.3" width="5.00" height="35.1" fill="#c0c0c0" stroke="#222" stroke-width="0.65"/>
<text x="327.78" y="252.6" font-size="6.9" text-anchor="middle" fill="#333" stroke="#333" stroke-width="0.1">d</text>
<rect x="330.88" y="241.7" width="5.00" height="50.7" fill="#ffc000" stroke="#222" stroke-width="0.65"/>
<text x="333.38" y="236.8" font-size="6.9" text-anchor="middle" fill="#333" stroke="#333" stroke-width="0.1">c</text>
<rect x="336.48" y="212.8" width="5.00" height="79.6" fill="#5b9bd5" stroke="#222" stroke-width="0.65"/>
<line x1="338.98" y1="207.0" x2="338.98" y2="218.6" stroke="#111" stroke-width="0.75"/>
<line x1="337.48" y1="207.0" x2="340.48" y2="207.0" stroke="#111" stroke-width="0.7"/>
<line x1="337.48" y1="218.6" x2="340.48" y2="218.6" stroke="#111" stroke-width="0.7"/>
<text x="338.98" y="203.6" font-size="6.9" text-anchor="middle" fill="#333" stroke="#333" stroke-width="0.1">a</text>
<rect x="342.08" y="258.4" width="5.00" height="34.0" fill="#70ad47" stroke="#222" stroke-width="0.65"/>
<line x1="344.58" y1="255.8" x2="344.58" y2="260.9" stroke="#111" stroke-width="0.75"/>
<line x1="343.08" y1="255.8" x2="346.08" y2="255.8" stroke="#111" stroke-width="0.7"/>
<line x1="343.08" y1="260.9" x2="346.08" y2="260.9" stroke="#111" stroke-width="0.7"/>
<text x="344.58" y="253.1" font-size="6.9" text-anchor="middle" fill="#333" stroke="#333" stroke-width="0.1">d</text>
<text class="sbi" x="331.4" y="302.6" font-size="7.2" text-anchor="middle">MdUFGT</text>
<rect x="359.11" y="256.2" width="5.00" height="36.2" fill="#4472c4" stroke="#222" stroke-width="0.65"/>
<text x="361.61" y="254.0" font-size="4.8" text-anchor="middle" fill="#333" stroke="#333" stroke-width="0.1">cd</text>
<rect x="364.71" y="225.8" width="5.00" height="66.6" fill="#ed7d31" stroke="#222" stroke-width="0.65"/>
<line x1="367.21" y1="223.6" x2="367.21" y2="228.0" stroke="#111" stroke-width="0.75"/>
<line x1="365.71" y1="223.6" x2="368.71" y2="223.6" stroke="#111" stroke-width="0.7"/>
<line x1="365.71" y1="228.0" x2="368.71" y2="228.0" stroke="#111" stroke-width="0.7"/>
<text x="367.21" y="220.8" font-size="6.9" text-anchor="middle" fill="#333" stroke="#333" stroke-width="0.1">b</text>
<rect x="370.31" y="252.2" width="5.00" height="40.2" fill="#c0c0c0" stroke="#222" stroke-width="0.65"/>
<text x="372.81" y="246.9" font-size="6.9" text-anchor="middle" fill="#333" stroke="#333" stroke-width="0.1">c</text>
<rect x="375.91" y="230.9" width="5.00" height="61.5" fill="#ffc000" stroke="#222" stroke-width="0.65"/>
<text x="378.41" y="226.5" font-size="6.9" text-anchor="middle" fill="#333" stroke="#333" stroke-width="0.1">b</text>
<rect x="381.51" y="194.3" width="5.00" height="98.1" fill="#5b9bd5" stroke="#222" stroke-width="0.65"/>
<line x1="384.01" y1="187.1" x2="384.01" y2="201.5" stroke="#111" stroke-width="0.75"/>
<line x1="382.51" y1="187.1" x2="385.51" y2="187.1" stroke="#111" stroke-width="0.7"/>
<line x1="382.51" y1="201.5" x2="385.51" y2="201.5" stroke="#111" stroke-width="0.7"/>
<text x="384.01" y="184.8" font-size="6.9" text-anchor="middle" fill="#333" stroke="#333" stroke-width="0.1">a</text>
<rect x="387.11" y="260.2" width="5.00" height="32.2" fill="#70ad47" stroke="#222" stroke-width="0.65"/>
<line x1="389.61" y1="256.6" x2="389.61" y2="263.8" stroke="#111" stroke-width="0.75"/>
<line x1="388.11" y1="256.6" x2="391.11" y2="256.6" stroke="#111" stroke-width="0.7"/>
<line x1="388.11" y1="263.8" x2="391.11" y2="263.8" stroke="#111" stroke-width="0.7"/>
<text x="389.61" y="254.0" font-size="6.9" text-anchor="middle" fill="#333" stroke="#333" stroke-width="0.1">d</text>
<text class="sbi" x="375.7" y="302.6" font-size="7.2" text-anchor="middle">MdGSTF12</text>
<rect x="47.4" y="148.2" width="3.8" height="3.5" fill="#4472c4" stroke="#333" stroke-width="0.7"/>
<text class="sb" x="53.3" y="153.1" font-size="7.4" style="stroke-width:0.26px">Control</text>
<rect x="47.4" y="157.3" width="3.8" height="3.5" fill="#ed7d31" stroke="#333" stroke-width="0.7"/>
<text class="sb" x="53.3" y="162.2" font-size="7.4" style="stroke-width:0.26px">Eth</text>
<rect x="47.4" y="166.3" width="3.8" height="3.5" fill="#c0c0c0" stroke="#333" stroke-width="0.7"/>
<text class="sb" x="53.3" y="171.2" font-size="7.4" style="stroke-width:0.26px">1-MCP</text>
<rect x="47.4" y="176.0" width="3.8" height="3.5" fill="#ffc000" stroke="#333" stroke-width="0.7"/>
<text class="sb" x="53.3" y="180.9" font-size="7.4" style="stroke-width:0.26px">ALA</text>
<rect x="47.4" y="184.2" width="3.8" height="3.5" fill="#5b9bd5" stroke="#333" stroke-width="0.7"/>
<text class="sb" x="53.3" y="189.1" font-size="7.4" style="stroke-width:0.26px">ALA+Eth</text>
<rect x="47.4" y="194.7" width="3.8" height="3.5" fill="#70ad47" stroke="#333" stroke-width="0.7"/>
<text class="sb" x="53.3" y="199.6" font-size="7.4" style="stroke-width:0.26px">ALA+1–MCP</text>
<text x="86" y="314.5" font-size="9" textLength="222" lengthAdjust="spacingAndGlyphs" fill="#222" stroke="#222" stroke-width="0.12">Genes related to anthocyanin biosynthesis and transport</text>
</svg></body></html>
